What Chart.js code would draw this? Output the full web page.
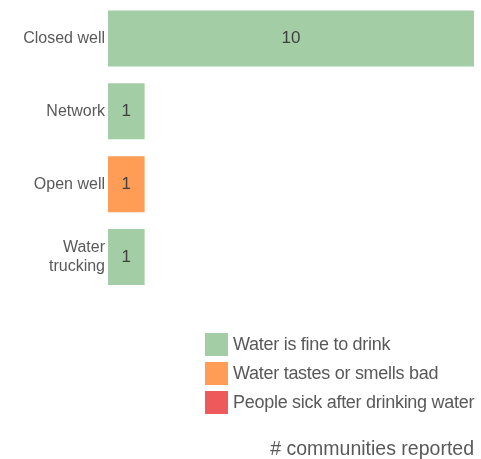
<!DOCTYPE html>
<html>
<head>
<meta charset="utf-8">
<script src="https://cdn.jsdelivr.net/npm/chart.js@4.4.0/dist/chart.umd.min.js"></script>
<style>
  html, body { margin: 0; padding: 0; background: #fff; }
  #wrap { position: relative; width: 481px; height: 459px; }
  #legend {
    position: absolute; left: 205px; top: 333px;
    font-family: 'Liberation Sans', Arial, sans-serif;
    font-size: 18px; letter-spacing: -0.28px; color: #595959;
  }
  #legend .item { display: flex; align-items: center; height: 23px; margin-bottom: 6px; white-space: nowrap; }
  #legend .box { width: 23px; height: 23px; margin-right: 5px; flex: none; }
</style>
</head>
<body>
<div id="wrap">
  <canvas id="chart" width="481" height="459"></canvas>
  <div id="legend"></div>
</div>
<script>
// --- Data ------------------------------------------------------
const categories = ['Closed well', 'Network', 'Open well', ['Water', 'trucking']];
const seriesNames = ['Water is fine to drink', 'Water tastes or smells bad', 'People sick after drinking water'];
const fineValues = [10, 1, 0, 1];
const badValues = [0, 0, 1, 0];
const sickValues = [0, 0, 0, 0];
const seriesColors = ['#a3cda5', '#ff9d57', '#ee5a5c'];
const axisTitle = '# communities reported';

Chart.defaults.font.family = "'Liberation Sans', Arial, sans-serif";
Chart.defaults.color = '#595959';

// --- Value labels inside bars ------------------------------------
const valueLabels = {
  id: 'valueLabels',
  afterDatasetsDraw(chart) {
    const ctx = chart.ctx;
    ctx.save();
    ctx.font = "17px 'Liberation Sans', Arial, sans-serif";
    ctx.fillStyle = '#404040';
    ctx.textAlign = 'center';
    ctx.textBaseline = 'middle';
    chart.data.datasets.forEach((ds, i) => {
      const meta = chart.getDatasetMeta(i);
      meta.data.forEach((bar, j) => {
        const v = ds.data[j];
        if (!v) return;
        ctx.fillText(String(v), (bar.x + bar.base) / 2, bar.y);
      });
    });
    ctx.restore();
  }
};

const allValues = [fineValues, badValues, sickValues];

const chart = new Chart(document.getElementById('chart'), {
  type: 'bar',
  data: {
    labels: categories,
    datasets: seriesNames.map((name, i) => ({
      label: name,
      data: allValues[i],
      backgroundColor: seriesColors[i],
      borderWidth: 0,
      categoryPercentage: 1,
      barPercentage: 0.767
    }))
  },
  options: {
    indexAxis: 'y',
    responsive: false,
    animation: false,
    layout: { padding: { top: 2, right: 7, left: 0, bottom: 0 } },
    plugins: {
      legend: { display: false },
      tooltip: { enabled: false }
    },
    scales: {
      x: {
        stacked: true,
        min: 0,
        max: 10,
        grid: { display: false, drawTicks: false },
        border: { display: false },
        ticks: { display: false },
        title: {
          display: true,
          text: axisTitle,
          align: 'end',
          color: '#595959',
          font: { size: 19.5, lineHeight: 1 },
          padding: { top: 146, bottom: 0 }
        }
      },
      y: {
        stacked: true,
        grid: { display: false, drawTicks: false },
        border: { display: false },
        ticks: { padding: 3, color: '#595959', font: { size: 16, lineHeight: 1.15 } },
        afterFit(scale) {
          scale.width = 108;
          scale.paddingTop = 0;
          scale.paddingBottom = 0;
        }
      }
    }
  },
  plugins: [valueLabels]
});

// --- HTML legend ---------------------------------------------------
const legendEl = document.getElementById('legend');
chart.data.datasets.forEach(ds => {
  const item = document.createElement('div');
  item.className = 'item';
  item.innerHTML = `<span class="box" style="background:${ds.backgroundColor}"></span><span>${ds.label}</span>`;
  legendEl.appendChild(item);
});
</script>
</body>
</html>
